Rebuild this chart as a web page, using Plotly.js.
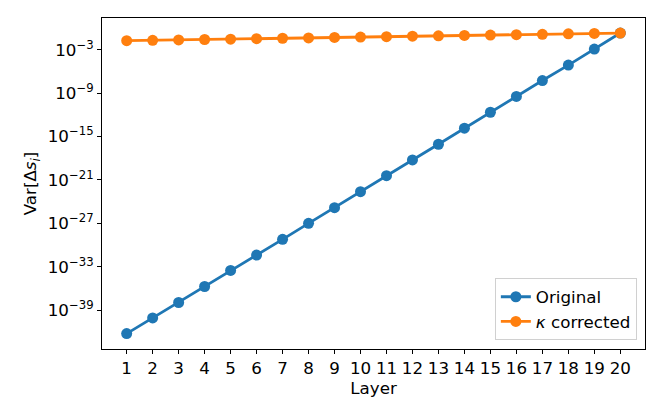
<!DOCTYPE html>
<html>
<head>
<meta charset="utf-8">
<script src="https://cdn.plot.ly/plotly-3.0.1.min.js"></script>
<style>body{margin:0;padding:0;background:#fff;} #chart{width:664px;height:415px;}</style>
</head>
<body>
<div id="chart"></div>
<script>
const layers = [1,2,3,4,5,6,7,8,9,10,11,12,13,14,15,16,17,18,19,20];
const original = [5.9e-43, 8.5e-41, 1.17e-38, 1.9e-36, 3.2e-34, 4.2e-32, 6.2e-30, 1.02e-27, 1.48e-25, 2.4e-23,
                  4.0e-21, 5.9e-19, 8.7e-17, 1.45e-14, 2.3e-12, 3.5e-10, 5.6e-8, 7.6e-6, 1.26e-3, 0.204];
const kappaCorrected = [0.0178, 0.0204, 0.0229, 0.0263, 0.0295, 0.0339, 0.0389, 0.0437, 0.0501, 0.0562,
                        0.0646, 0.0741, 0.0832, 0.0955, 0.107, 0.123, 0.138, 0.158, 0.182, 0.204];
const yTickVals = [1e-39, 1e-33, 1e-27, 1e-21, 1e-15, 1e-9, 1e-3];
const yTickText = ['10<sup>−39</sup>','10<sup>−33</sup>','10<sup>−27</sup>','10<sup>−21</sup>','10<sup>−15</sup>','10<sup>−9</sup>','10<sup>−3</sup>'];
const seriesNames = ['Original', '<i>κ</i> corrected'];

const font = {family: 'DejaVu Sans, sans-serif', size: 16.7, color: '#000'};
const traces = [
  {x: layers, y: original, name: seriesNames[0], mode: 'lines+markers',
   line: {color: '#1f77b4', width: 2.8}, marker: {color: '#1f77b4', size: 11}},
  {x: layers, y: kappaCorrected, name: seriesNames[1], mode: 'lines+markers',
   line: {color: '#ff7f0e', width: 2.8}, marker: {color: '#ff7f0e', size: 11}}
];
const layout = {
  width: 664, height: 415,
  margin: {l: 102, r: 19, t: 18, b: 66},
  paper_bgcolor: '#fff', plot_bgcolor: '#fff',
  font: font,
  showlegend: true,
  xaxis: {
    range: [0.05, 20.95], tickvals: layers, ticktext: layers.map(String),
    showgrid: false, zeroline: false, showline: true, mirror: true,
    linecolor: '#000', linewidth: 1.1, ticks: 'outside', ticklen: 4, tickcolor: '#000',
    tickfont: font,
    title: {text: 'Layer', font: font, standoff: 2}
  },
  yaxis: {
    type: 'log', range: [-44.36, 1.39], tickvals: yTickVals, ticktext: yTickText,
    showgrid: false, zeroline: false, showline: true, mirror: true,
    linecolor: '#000', linewidth: 1.1, ticks: 'outside', ticklen: 4, tickcolor: '#000',
    tickfont: font,
    title: {text: 'Var[Δ<i>s<sub>i</sub></i>]', font: font, standoff: 6}
  },
  legend: {
    x: 0.985, y: 0.026, xanchor: 'right', yanchor: 'bottom',
    bgcolor: 'rgba(255,255,255,0.8)', bordercolor: '#d0d0d0', borderwidth: 1,
    font: font, itemwidth: 30, tracegroupgap: 0
  }
};
Plotly.newPlot('chart', traces, layout, {displayModeBar: false});
</script>
</body>
</html>
